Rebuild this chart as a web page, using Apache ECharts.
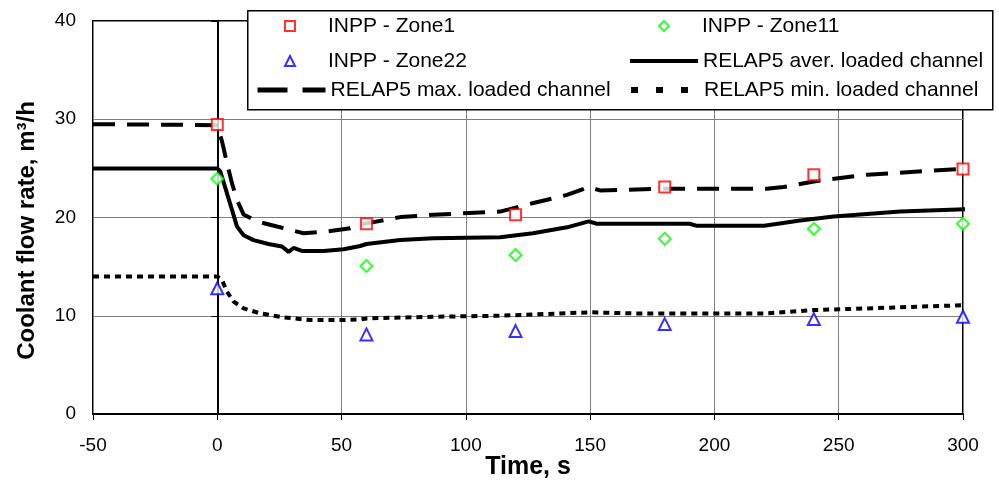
<!DOCTYPE html>
<html>
<head>
<meta charset="utf-8">
<script src="https://cdn.jsdelivr.net/npm/echarts@6/dist/echarts.min.js"></script>
<style>html,body{margin:0;padding:0;background:#fff}#c{width:999px;height:484px}</style>
</head>
<body>
<div id="c"></div>
<script>
// ---- data ----
var xTicks = [-50, 0, 50, 100, 150, 200, 250, 300];
var yTicks = [0, 10, 20, 30, 40];

var tObs = [0, 60, 120, 180, 240, 300];
var zone1 = [29.46, 19.36, 20.28, 23.1, 24.36, 24.94];
var zone11 = [23.95, 15.07, 16.19, 17.83, 18.85, 19.36];
var zone22 = [12.8, 8.1, 8.44, 9.15, 9.66, 9.9];

var tAver = [-50, 0, 1.2, 5.9, 7.9, 10.6, 14.6, 20.6, 26, 28.7, 30.7, 34, 42.8, 50.8, 57.5, 60, 73.6, 87, 113.8, 127, 140.7, 149.4, 152.7, 167, 190, 193, 220, 234.5, 248, 274.7, 302];
var vAver = [25, 25, 24.7, 20.8, 19.1, 18.2, 17.7, 17.3, 17.05, 16.5, 16.9, 16.6, 16.6, 16.77, 17.1, 17.3, 17.7, 17.9, 18.0, 18.4, 19.0, 19.6, 19.36, 19.36, 19.36, 19.15, 19.15, 19.7, 20.1, 20.6, 20.86];

var tMax = [-50, 0, 1.9, 3.9, 5.9, 7.9, 10.6, 16, 24, 34.7, 44, 53.5, 57.5, 60, 73.6, 87, 113.8, 127.2, 140.7, 149.4, 154, 181, 221, 227.8, 240, 261.4, 288, 302];
var vMax = [29.5, 29.4, 27.75, 25.55, 23.5, 21.8, 20.3, 19.6, 19.08, 18.4, 18.57, 18.9, 19.25, 19.4, 20.04, 20.28, 20.6, 21.47, 22.3, 23.1, 22.76, 22.93, 22.93, 23.1, 23.67, 24.36, 24.77, 24.97];

var tMin = [-50, 0, 1.9, 3.9, 6.6, 10.6, 17.3, 26.7, 37.4, 50.8, 57.5, 60, 87, 113.8, 150, 167.5, 221, 240, 261.4, 302];
var vMin = [14, 14, 13.64, 12.45, 11.43, 10.75, 10.24, 9.84, 9.56, 9.56, 9.63, 9.73, 9.9, 10.0, 10.35, 10.24, 10.24, 10.58, 10.75, 11.09];

var names = ['INPP - Zone1', 'INPP - Zone11', 'INPP - Zone22', 'RELAP5 aver. loaded channel', 'RELAP5 max. loaded channel', 'RELAP5 min. loaded channel'];

function zip(a, b) { return a.map(function (v, i) { return [v, b[i]]; }); }

var FONT = "'Liberation Sans', Arial, sans-serif";

function markerLegend(name, left, top) {
  return {
    data: [name], left: left, top: top, padding: 0,
    itemWidth: 10, itemHeight: 10, itemGap: 0,
    selectedMode: false,
    textStyle: { fontFamily: FONT, fontSize: 21, color: '#000', lineHeight: 24, padding: [0, 0, 0, 28] },
    z: 10
  };
}
function lineLegend(name, left, top, lineStyle) {
  return {
    data: [name], left: left, top: top, padding: 0,
    itemWidth: 68, itemHeight: 10, itemGap: 0,
    selectedMode: false,
    itemStyle: { color: 'rgba(0,0,0,0)', borderWidth: 0, opacity: 0 },
    lineStyle: lineStyle,
    textStyle: { fontFamily: FONT, fontSize: 21, color: '#000', lineHeight: 24 },
    z: 10
  };
}

var chart = echarts.init(document.getElementById('c'), null, { renderer: 'canvas' });
chart.setOption({
  animation: false,
  backgroundColor: '#fff',
  grid: { left: 93, right: 36, top: 21, bottom: 70, show: true, borderColor: '#000', borderWidth: 2,
    backgroundColor: 'transparent', containLabel: false, outerBoundsMode: 'none' },
  xAxis: {
    type: 'value', min: -50, max: 300, interval: 50,
    name: 'Time, s', nameLocation: 'middle', nameGap: 41, nameMoveOverlap: false,
    nameTextStyle: { fontFamily: FONT, fontSize: 25, fontWeight: 'bold', color: '#000' },
    axisLine: { lineStyle: { color: '#000', width: 2 } },
    axisTick: { show: true, length: 6, lineStyle: { color: '#000', width: 1 } },
    axisLabel: { fontFamily: FONT, fontSize: 19, color: '#000', margin: 22,
      formatter: function (v) { return xTicks.indexOf(v) >= 0 ? String(v) : ''; } },
    splitLine: { show: true, lineStyle: { color: '#808080', width: 1 } }
  },
  yAxis: {
    type: 'value', min: 0, max: 40, interval: 10,
    name: 'Coolant flow rate, m³/h', nameLocation: 'middle', nameGap: 54, nameMoveOverlap: false,
    nameTextStyle: { fontFamily: FONT, fontSize: 24, fontWeight: 'bold', color: '#000', padding: [0, 26, 0, 0] },
    axisLine: { show: true, lineStyle: { color: '#000', width: 2 } },
    axisTick: { show: true, length: 6, lineStyle: { color: '#000', width: 1 } },
    axisLabel: { fontFamily: FONT, fontSize: 19, color: '#000', margin: 17,
      formatter: function (v) { return yTicks.indexOf(v) >= 0 ? String(v) : ''; } },
    splitLine: { show: true, lineStyle: { color: '#808080', width: 1 } }
  },
  legend: [
    markerLegend(names[0], 284, 14),
    markerLegend(names[2], 284, 49),
    lineLegend(names[4], 255, 78, { type: [30, 15], width: 5 }),
    markerLegend(names[1], 658, 14),
    lineLegend(names[3], 628, 49, { width: 4 }),
    lineLegend(names[5], 628, 78, { type: [7, 18], width: 6 })
  ],
  graphic: [{
    type: 'rect', left: 247, top: 10, z: 5,
    shape: { width: 745, height: 99 },
    style: { fill: '#fff', stroke: '#000', lineWidth: 1.5 }
  }],
  series: [
    { name: names[3], type: 'line', data: zip(tAver, vAver), showSymbol: false, symbol: 'none', clip: false,
      lineStyle: { color: '#000', width: 4 }, itemStyle: { color: '#000' }, z: 2 },
    { name: names[4], type: 'line', data: zip(tMax, vMax), showSymbol: false, symbol: 'none', clip: false,
      lineStyle: { color: '#000', width: 4, type: [22, 12] }, itemStyle: { color: '#000' }, z: 2 },
    { name: names[5], type: 'line', data: zip(tMin, vMin), showSymbol: false, symbol: 'none', clip: false,
      lineStyle: { color: '#000', width: 4, type: [6, 5] }, itemStyle: { color: '#000' }, z: 2 },
    { name: names[0], type: 'scatter', data: zip(tObs, zone1), symbol: 'rect', symbolSize: 11,
      itemStyle: { color: '#fff', borderColor: '#ff0000', borderWidth: 2 }, z: 3 },
    { name: names[1], type: 'scatter', data: zip(tObs, zone11), symbol: 'diamond', symbolSize: 12,
      itemStyle: { color: '#fff', borderColor: '#00ff00', borderWidth: 2 }, z: 3 },
    { name: names[2], type: 'scatter', data: zip(tObs, zone22), symbol: 'triangle', symbolSize: 12,
      itemStyle: { color: '#fff', borderColor: '#0000ff', borderWidth: 2 }, z: 3 }
  ]
});
</script>
</body>
</html>
